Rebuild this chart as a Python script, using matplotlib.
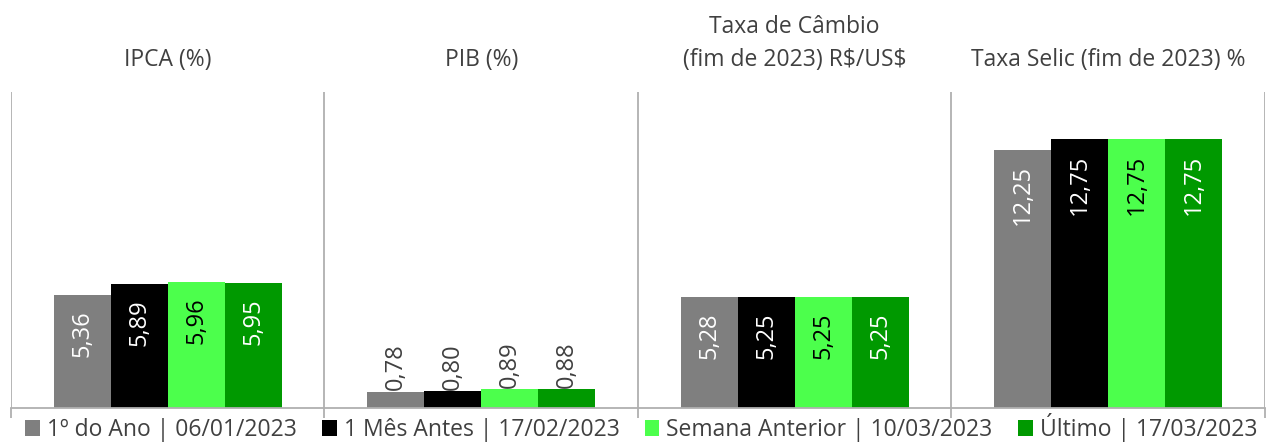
import matplotlib.pyplot as plt
from matplotlib.patches import Patch

plt.rcParams['font.family'] = ['Open Sans', 'DejaVu Sans']

# data
groups = ["IPCA (%)", "PIB (%)", "Taxa de Câmbio\n(fim de 2023) R\\$/US\\$", "Taxa Selic (fim de 2023) %"]
series = ["1º do Ano | 06/01/2023", "1 Mês Antes | 17/02/2023",
          "Semana Anterior | 10/03/2023", "Último | 17/03/2023"]
primeiro = [5.36, 0.78, 5.28, 12.25]
mes_antes = [5.89, 0.80, 5.25, 12.75]
semana_anterior = [5.96, 0.89, 5.25, 12.75]
ultimo = [5.95, 0.88, 5.25, 12.75]

colors = ["#7f7f7f", "#000000", "#4cff4c", "#009900"]
label_colors = ["white", "white", "black", "white"]
text_color = "#404040"
line_color = "#b0b0b0"

fig = plt.figure(figsize=(12.82, 4.45), dpi=100)
ax = fig.add_axes([0.0086, 0.0831, 0.978, 0.710])

width = 0.182
values = [primeiro, mes_antes, semana_anterior, ultimo]
for i, (vals, color, lc) in enumerate(zip(values, colors, label_colors)):
    xs = [g + (i - 1.5) * width for g in range(len(groups))]
    ax.bar(xs, vals, width=width, color=color, edgecolor="none")
    for x, v in zip(xs, vals):
        txt = f"{v:.2f}".replace(".", ",")
        if v < 2:
            # small bars: label above
            ax.annotate(txt, (x, v), xytext=(0, 1), textcoords="offset points",
                        rotation=90, ha="center", va="bottom", fontsize=17,
                        color=text_color)
        else:
            ax.annotate(txt, (x, v), xytext=(0, -11), textcoords="offset points",
                        rotation=90, ha="center", va="top", fontsize=17,
                        color=lc)

# titles above each group
for g, title in enumerate(groups):
    ax.text(g, 1.065, title, transform=ax.get_xaxis_transform(), ha="center",
            va="bottom", fontsize=16.5, color=text_color, linespacing=1.45)

# separators
for b in [-0.5, 0.5, 1.5, 2.5, 3.5]:
    ax.axvline(b, color=line_color, lw=1.3, zorder=0)

ax.set_xlim(-0.5, 3.5)
ax.set_ylim(0, 15)
ax.set_xticks([-0.5, 0.5, 1.5, 2.5, 3.5])
ax.set_xticklabels([])
ax.tick_params(axis="x", length=7, color=line_color, width=1.3)
ax.set_yticks([])
for s in ["top", "left", "right"]:
    ax.spines[s].set_visible(False)
ax.spines["bottom"].set_color(line_color)
ax.spines["bottom"].set_linewidth(1.3)

handles = [Patch(facecolor=c, edgecolor="none") for c in colors]
fig.legend(handles, series, loc="lower center", bbox_to_anchor=(0.5, -0.04),
           ncol=4, frameon=False, fontsize=16.5, labelcolor=text_color,
           handlelength=0.65, handleheight=0.65, handletextpad=0.3,
           columnspacing=1.1)

fig.savefig("out.png", dpi=100)
